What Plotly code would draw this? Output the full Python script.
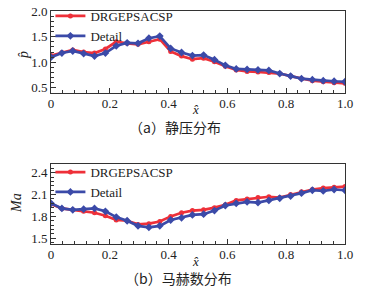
import plotly.graph_objects as go

x_hat = [0.0, 0.037, 0.074, 0.111, 0.148, 0.185, 0.222, 0.259, 0.296, 0.333,
         0.370, 0.407, 0.444, 0.481, 0.519, 0.556, 0.593, 0.630, 0.667, 0.704,
         0.741, 0.778, 0.815, 0.852, 0.889, 0.926, 0.963, 1.0]

p_drgep = [1.13, 1.19, 1.24, 1.20, 1.18, 1.26, 1.40, 1.37, 1.35, 1.40,
           1.45, 1.21, 1.12, 1.06, 1.08, 1.01, 0.92, 0.85, 0.82, 0.81,
           0.80, 0.78, 0.73, 0.68, 0.64, 0.62, 0.60, 0.59]
p_detail = [1.10, 1.18, 1.22, 1.17, 1.12, 1.18, 1.32, 1.38, 1.37, 1.47,
            1.51, 1.27, 1.19, 1.13, 1.14, 1.05, 0.94, 0.87, 0.86, 0.85,
            0.84, 0.78, 0.73, 0.68, 0.66, 0.64, 0.63, 0.62]

ma_drgep = [1.97, 1.91, 1.89, 1.87, 1.85, 1.81, 1.75, 1.74, 1.69, 1.70,
            1.73, 1.80, 1.85, 1.88, 1.89, 1.92, 1.96, 2.02, 2.04, 2.06,
            2.07, 2.06, 2.10, 2.14, 2.17, 2.19, 2.20, 2.21]
ma_detail = [1.98, 1.91, 1.89, 1.90, 1.91, 1.87, 1.79, 1.74, 1.67, 1.65,
             1.67, 1.75, 1.78, 1.82, 1.83, 1.88, 1.95, 1.98, 2.00, 1.99,
             2.02, 2.05, 2.08, 2.12, 2.16, 2.15, 2.17, 2.16]

x_ticks = [0, 0.2, 0.4, 0.6, 0.8, 1.0]
x_ticktext = ["0", "0.2", "0.4", "0.6", "0.8", "1.0"]
p_ticks = [0.5, 1.0, 1.5, 2.0]
ma_ticks = [1.5, 1.8, 2.1, 2.4]

RED = "#ee3039"
BLUE = "#3b4aa8"
SERIF = "Liberation Serif"
CJK = "Noto Sans CJK SC"
AX = "#333333"
TXT = "#222222"

fig = go.Figure()
fig.add_trace(go.Scatter(x=x_hat, y=p_drgep, mode="lines+markers", name="DRGEPSACSP",
                         line=dict(color=RED, width=2.7), marker=dict(symbol="circle", size=5, color=RED),
                         xaxis="x", yaxis="y", legend="legend"))
fig.add_trace(go.Scatter(x=x_hat, y=p_detail, mode="lines+markers", name="Detail",
                         line=dict(color=BLUE, width=2.7), marker=dict(symbol="diamond", size=6, color=BLUE),
                         xaxis="x", yaxis="y", legend="legend"))
fig.add_trace(go.Scatter(x=x_hat, y=ma_drgep, mode="lines+markers", name="DRGEPSACSP",
                         line=dict(color=RED, width=2.7), marker=dict(symbol="circle", size=5, color=RED),
                         xaxis="x2", yaxis="y2", legend="legend2"))
fig.add_trace(go.Scatter(x=x_hat, y=ma_detail, mode="lines+markers", name="Detail",
                         line=dict(color=BLUE, width=2.7), marker=dict(symbol="diamond", size=6, color=BLUE),
                         xaxis="x2", yaxis="y2", legend="legend2"))

def xax(anchor):
    return dict(range=[0, 1], domain=[0, 1], anchor=anchor, tickvals=x_ticks, ticktext=x_ticktext,
                ticks="inside", ticklen=5, tickcolor=AX, showline=True, linecolor=AX, linewidth=1,
                mirror=True, showgrid=False, zeroline=False, automargin=False, ticklabelstandoff=-2,
                minor=dict(dtick=0.04, ticks="inside", ticklen=3, tickcolor=AX),
                tickfont=dict(family=SERIF, size=13, color=TXT))

def yax(anchor, rng, dom, tv, mdt):
    return dict(range=rng, domain=dom, anchor=anchor, tickvals=tv, tickformat=".1f",
                ticks="inside", ticklen=5, tickcolor=AX, showline=True, linecolor=AX, linewidth=1,
                mirror=True, showgrid=False, zeroline=False, automargin=False,
                minor=dict(dtick=mdt, ticks="inside", ticklen=3, tickcolor=AX),
                tickfont=dict(family=SERIF, size=13, color=TXT))

def ann(text, x, y, size=13, family=SERIF, angle=0):
    return dict(text=text, x=x, y=y, xref="paper", yref="paper", showarrow=False,
                xanchor="center", yanchor="middle", textangle=angle,
                font=dict(family=family, size=size, color=TXT))

fig.update_layout(
    width=367, height=293,
    margin=dict(l=51, r=22, t=11, b=49, autoexpand=False),
    paper_bgcolor="white", plot_bgcolor="white",
    font=dict(family=SERIF, size=13, color=TXT),
    xaxis=xax("y"),
    yaxis=yax("x", [0.4, 2.0], [0.648, 1.0], p_ticks, 0.1),
    xaxis2=xax("y2"),
    yaxis2=yax("x2", [1.42, 2.52], [0.0, 0.343], ma_ticks, 0.06),
    legend=dict(x=-0.002, y=1.043, xanchor="left", yanchor="top", bgcolor="rgba(0,0,0,0)",
                font=dict(family=SERIF, size=13, color=TXT), tracegroupgap=0),
    legend2=dict(x=-0.002, y=0.373, xanchor="left", yanchor="top", bgcolor="rgba(0,0,0,0)",
                 font=dict(family=SERIF, size=13, color=TXT), tracegroupgap=0),
    showlegend=True,
    annotations=[
        ann("<i>x̂</i>", 0.493, 0.579),
        ann("<i>x̂</i>", 0.493, -0.073),
        ann("<i>p̂</i>", -0.095, 0.811, size=14, angle=-90),
        ann("<i>Ma</i>", -0.116, 0.176, size=14, angle=-90),
        ann("（a）静压分布", 0.422, 0.502, size=14, family=CJK),
        ann("（b）马赫数分布", 0.435, -0.146, size=14, family=CJK),
    ],
)

fig.write_html("out.html", config={"displayModeBar": False},
               post_script="document.body.style.margin='0';")
